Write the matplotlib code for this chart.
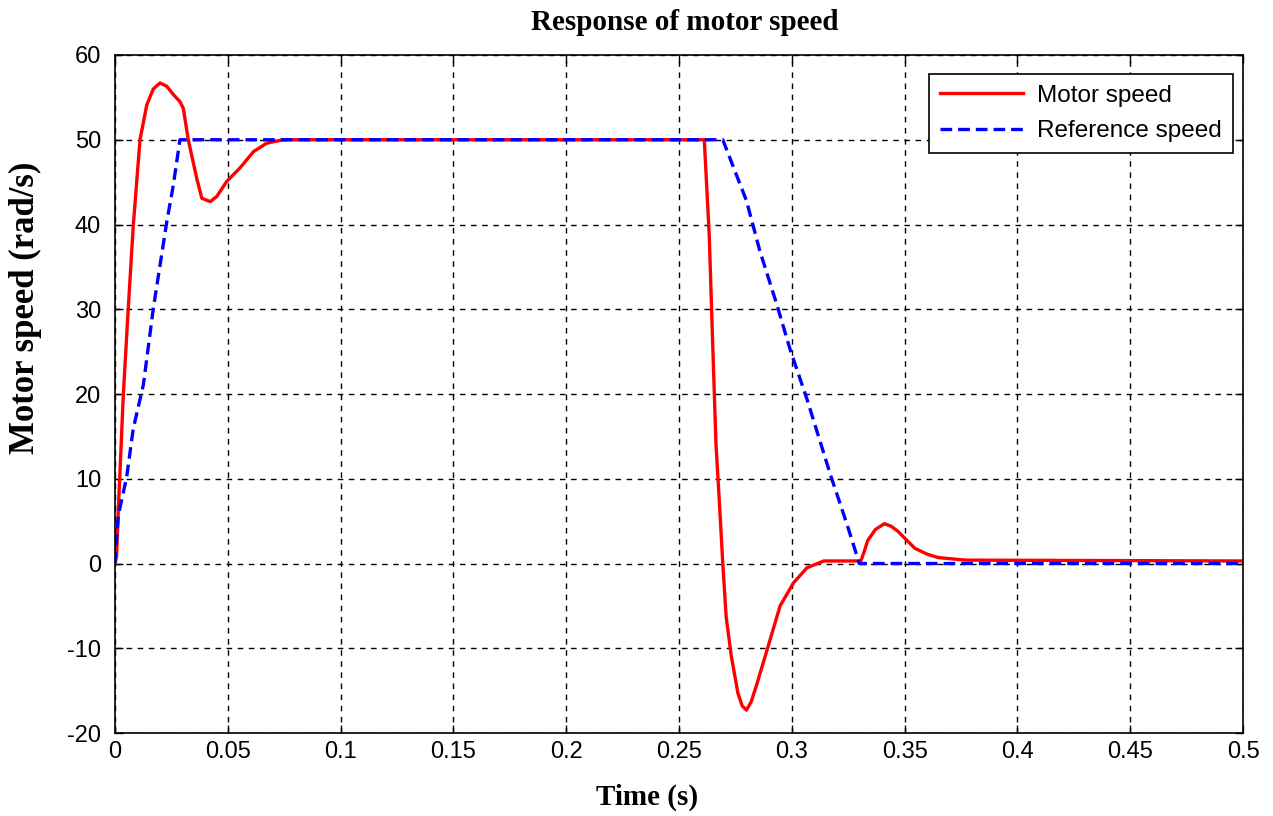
import numpy as np
import matplotlib.pyplot as plt

# motor speed samples (time in s, speed in rad/s)
t_motor = [0, 0.0007, 0.0015, 0.0022, 0.0037, 0.0059, 0.0081, 0.0111, 0.0141,
           0.017, 0.020, 0.023, 0.026, 0.0288, 0.0303, 0.0325, 0.0362, 0.0385,
           0.0422, 0.0451, 0.0496, 0.0555, 0.0614, 0.0673, 0.0747,
           0.2612, 0.2634, 0.2649, 0.2664, 0.2679, 0.2694, 0.2709,
           0.2731, 0.2761, 0.278, 0.2799, 0.282, 0.2843, 0.2888, 0.2948, 0.3007,
           0.3067, 0.3142, 0.3306, 0.3322, 0.3336, 0.337, 0.341, 0.344, 0.347,
           0.3545, 0.36, 0.3649, 0.377, 0.5]
w_motor = [0, 0.8, 6.5, 10.6, 19.9, 30.1, 39.8, 50.0, 54.1,
           56.0, 56.7, 56.3, 55.3, 54.5, 53.7, 50.0, 45.5, 43.1,
           42.7, 43.3, 45.1, 46.7, 48.6, 49.6, 50.0,
           50.0, 38.7, 26.1, 14.0, 7.2, 0.0, -6.3,
           -10.8, -15.3, -16.8, -17.3, -16.3, -14.4, -10.4, -5.0, -2.3,
           -0.5, 0.3, 0.3, 1.5, 2.7, 4.0, 4.7, 4.4, 3.8,
           1.8, 1.1, 0.7, 0.4, 0.3]

# reference speed
t_ref = [0, 0.0015, 0.0052, 0.0081, 0.0126, 0.017, 0.0229, 0.0259, 0.0288,
         0.2694, 0.2799, 0.2858, 0.2933, 0.2993, 0.3067, 0.3172, 0.3246, 0.3299, 0.5]
w_ref = [0, 5.7, 10.2, 15.9, 21.1, 30.1, 40.2, 44.7, 50.0,
         50.0, 42.8, 36.9, 30.6, 25.2, 19.4, 10.4, 4.5, 0.0, 0.0]

xticks = [0, 0.05, 0.1, 0.15, 0.2, 0.25, 0.3, 0.35, 0.4, 0.45, 0.5]
xticklabels = ['0', '0.05', '0.1', '0.15', '0.2', '0.25', '0.3', '0.35', '0.4', '0.45', '0.5']
yticks = [-20, -10, 0, 10, 20, 30, 40, 50, 60]
yticklabels = ['-20', '-10', '0', '10', '20', '30', '40', '50', '60']

fig = plt.figure(figsize=(12.73, 8.16), dpi=100)
ax = fig.add_axes([0.0903, 0.1017, 0.8862, 0.8309])

ax.plot(t_motor, w_motor, color='red', lw=2.4, label='Motor speed')
ax.plot(t_ref, w_ref, color='blue', lw=2.4, ls=(0, (3.5, 1.8)), label='Reference speed')

ax.set_xlim(0, 0.5)
ax.set_ylim(-20, 60)
ax.set_xticks(xticks)
ax.set_xticklabels(xticklabels)
ax.set_yticks(yticks)
ax.set_yticklabels(yticklabels)
ax.tick_params(direction='in', length=6, width=1, labelsize=17, top=True, right=True)
ax.tick_params(axis='x', pad=6)
ax.tick_params(axis='y', pad=10)
for lab in ax.get_xticklabels() + ax.get_yticklabels():
    lab.set_family('Liberation Sans')
ax.grid(True, color='black', ls=(0, (4, 4)), lw=1)
for s in ax.spines.values():
    s.set_linewidth(1.2)

serif = dict(family='Liberation Serif', weight='bold')
fig.text(685 / 1273, 1 - 22 / 816, 'Response of motor speed', ha='center', va='center',
         size=21, **serif)
fig.text(647 / 1273, 1 - 797 / 816, 'Time (s)', ha='center', va='center', size=21, **serif)
fig.text(25 / 1273, 1 - 308 / 816, 'Motor speed (rad/s)', ha='center', va='center',
         rotation=90, size=25, **serif)

leg = ax.legend(loc='upper right', prop={'family': 'Liberation Sans', 'size': 17.5},
                fancybox=False, framealpha=1, edgecolor='black', handlelength=3.4,
                handletextpad=0.6, borderpad=0.45, labelspacing=0.55, borderaxespad=0,
                bbox_to_anchor=(0.991, 0.972))
leg.get_frame().set_linewidth(1.2)

fig.savefig('out.png', dpi=100)
